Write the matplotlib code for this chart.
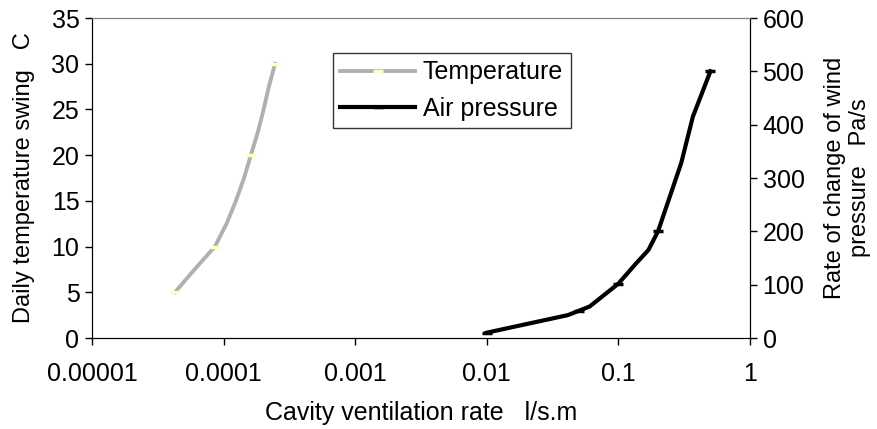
import matplotlib
matplotlib.use('Agg')
import matplotlib.pyplot as plt

plt.rcParams['font.family'] = ['Liberation Sans', 'DejaVu Sans']

# temperature series (left axis) - vertices, markers on data points
temp_rate = [4.27e-5, 6.1e-5, 8.59e-5, 1.06e-4, 1.24e-4, 1.43e-4, 1.61e-4, 1.82e-4,
             1.99e-4, 2.21e-4, 2.46e-4]
temp_swing = [5, 7.6, 10, 12.6, 15, 17.5, 20, 22.5, 24.7, 27.5, 30]
temp_marks = [0, 2, 6, 10]

# air pressure series (right axis)
air_rate = [0.01, 0.0414, 0.05, 0.0604, 0.081, 0.1, 0.133, 0.169, 0.2, 0.30, 0.368, 0.5]
air_press = [10, 43, 51, 59, 84, 102, 137, 165, 200, 328, 415, 500]
air_marks = [0, 2, 5, 8, 11]

x_ticks = [0.00001, 0.0001, 0.001, 0.01, 0.1, 1]
x_labels = ['0.00001', '0.0001', '0.001', '0.01', '0.1', '1']

fs = 18
fs_y = 17

fig = plt.figure(figsize=(8.77, 4.29), dpi=100)
ax = fig.add_axes([0.1049, 0.2121, 0.7503, 0.7459])
ax2 = ax.twinx()

l1, = ax.plot(temp_rate, temp_swing, color='#b0b0b0', lw=2.8, marker='_',
              markevery=temp_marks, markersize=7, mew=2.5, mec='#ffffc0',
              label='Temperature')
l2, = ax2.plot(air_rate, air_press, color='black', lw=3, marker='_',
               markevery=air_marks, markersize=7, mew=2.5, mec='black',
               label='Air pressure')

ax.set_xscale('log')
ax.set_xlim(1e-5, 1)
ax.set_xticks(x_ticks)
ax.set_xticklabels(x_labels)
ax.minorticks_off()
ax2.minorticks_off()
ax.set_ylim(0, 35)
ax.set_yticks(range(0, 36, 5))
ax2.set_ylim(0, 600)
ax2.set_yticks(range(0, 601, 100))

for a in (ax, ax2):
    a.tick_params(labelsize=fs, length=5, width=1, direction='out', pad=4)
    a.spines['top'].set_color('#808080')
ax.tick_params(axis='x', pad=12)

ax.set_xlabel('Cavity ventilation rate   l/s.m', fontsize=fs, labelpad=11)
ax.set_ylabel('Daily temperature swing   C', fontsize=fs_y, labelpad=12)
ax2.set_ylabel('Rate of change of wind\npressure   Pa/s', fontsize=fs_y,
               labelpad=14, linespacing=1.2, multialignment='center')

leg = ax.legend(handles=[l1, l2], loc='upper left', bbox_to_anchor=(0.366, 0.891),
                borderaxespad=0, fontsize=fs, frameon=True, fancybox=False,
                edgecolor='black', handlelength=3.0, handletextpad=0.3,
                borderpad=0.3, labelspacing=0.5)
leg.get_frame().set_linewidth(1)

fig.savefig('out.png', dpi=100)
